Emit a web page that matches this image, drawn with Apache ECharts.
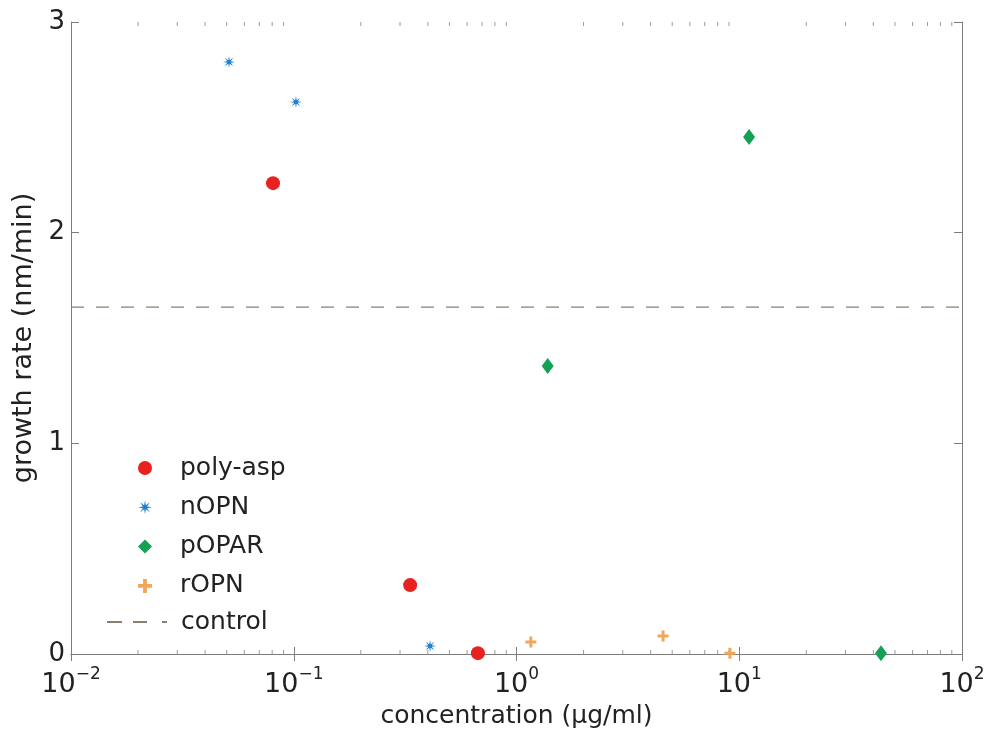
<!DOCTYPE html>
<html>
<head>
<meta charset="utf-8">
<script src="https://cdn.jsdelivr.net/npm/echarts@6/dist/echarts.min.js"></script>
<style>html,body{margin:0;padding:0;background:#fff}#c{width:990px;height:734px}</style>
</head>
<body>
<div id="c"></div>
<script>
// ---- data ----
const polyAspX = [0.0807, 0.333, 0.671];
const polyAspY = [2.235, 0.327, 0.004];
const nOPNX = [0.0512, 0.1023, 0.409];
const nOPNY = [2.81, 2.62, 0.038];
const pOPARX = [1.38, 11.07, 43.3];
const pOPARY = [1.367, 2.454, 0.004];
const rOPNX = [1.16, 4.55, 9.08];
const rOPNY = [0.057, 0.085, 0.004];
const controlY = 1.647;
const xMin = 0.01, xMax = 100;
const yMin = 0, yMax = 3;
const yTicks = [0, 1, 2, 3];
const minorTicks = [0.02,0.03,0.04,0.05,0.06,0.07,0.08,0.09,
                    0.2,0.3,0.4,0.5,0.6,0.7,0.8,0.9,
                    2,3,4,5,6,7,8,9,
                    20,30,40,50,60,70,80,90];
const seriesNames = ['poly-asp', 'nOPN', 'pOPAR', 'rOPN'];
const controlName = 'control';
const xTitle = 'concentration (µg/ml)';
const yTitle = 'growth rate (nm/min)';

function pairs(xs, ys) { return xs.map((x, i) => [x, ys[i]]); }

// star (asterisk-like) symbol path
function starPath() {
  let d = '';
  const n = 8, R = 10, r = 3.2;
  for (let i = 0; i < n * 2; i++) {
    const a = Math.PI * i / n - Math.PI / 2;
    const rad = i % 2 === 0 ? R : r;
    const x = (10 + rad * Math.cos(a)).toFixed(2), y = (10 + rad * Math.sin(a)).toFixed(2);
    d += (i === 0 ? 'M' : 'L') + x + ',' + y;
  }
  return 'path://' + d + 'Z';
}
const STAR = starPath();
const PLUS = 'path://M4,0h3v4h4v3h-4v4h-3v-4h-4v-3h4z';
const DASH_ICON = 'path://M0,0h15v2h-15z M26,0h14v2h-14z M55,0h5v2h-5z';

const FONT = 'DejaVu Sans';
const TXT = '#222';
const AX = '#7c7c7c';

const chart = echarts.init(document.getElementById('c'), null, {renderer: 'canvas'});
const option = {
  backgroundColor: '#fff',
  animation: false,
  textStyle: {fontFamily: FONT},
  grid: {left: 71, right: 28, top: 22, bottom: 80, containLabel: false},
  legend: [
    {
      data: [
        {name: seriesNames[0], icon: 'circle'},
        {name: seriesNames[1], icon: STAR},
        {name: seriesNames[2], icon: 'diamond'},
        {name: seriesNames[3], icon: PLUS}
      ],
      orient: 'vertical', left: 133, top: 450,
      itemWidth: 14, itemHeight: 14, itemGap: 13.3,
      selectedMode: false,
      textStyle: {fontFamily: FONT, fontSize: 25, color: TXT, lineHeight: 26, padding: [0, 0, 0, 23]}
    },
    {
      data: [{name: controlName, icon: DASH_ICON}],
      orient: 'vertical', left: 102, top: 604,
      itemWidth: 60, itemHeight: 2,
      selectedMode: false,
      textStyle: {fontFamily: FONT, fontSize: 25, color: TXT, lineHeight: 26, padding: [0, 0, 0, 9]}
    }
  ],
  xAxis: [
    {
      type: 'log', logBase: 10, min: xMin, max: xMax, position: 'bottom',
      name: xTitle, nameLocation: 'middle', nameGap: 50,
      nameTextStyle: {fontFamily: FONT, fontSize: 25, color: TXT},
      axisLine: {show: true, lineStyle: {color: AX, width: 1}},
      axisTick: {show: true, inside: true, length: 7, lineStyle: {color: AX}},
      splitLine: {show: false},
      axisLabel: {
        margin: 12,
        formatter: function (v) {
          const e = Math.round(Math.log10(v));
          return '{b|10}{s|' + (e < 0 ? '\u2212' + (-e) : e) + '}';
        },
        rich: {
          b: {fontFamily: FONT, fontSize: 27, color: TXT, lineHeight: 32, verticalAlign: 'bottom'},
          s: {fontFamily: FONT, fontSize: 17, color: TXT, verticalAlign: 'top'}
        }
      }
    },
    {
      type: 'log', logBase: 10, min: xMin, max: xMax, position: 'top',
      axisLine: {show: true, lineStyle: {color: AX, width: 1}},
      axisTick: {show: true, inside: true, length: 7, lineStyle: {color: AX}},
      axisLabel: {show: false}, splitLine: {show: false}
    }
  ],
  yAxis: [
    {
      type: 'value', min: yMin, max: yMax, interval: 1, position: 'left',
      name: yTitle, nameLocation: 'middle', nameGap: 33,
      nameTextStyle: {fontFamily: FONT, fontSize: 27, color: TXT},
      axisLine: {show: true, lineStyle: {color: AX, width: 1}},
      axisTick: {show: true, inside: true, length: 8, lineStyle: {color: AX}},
      splitLine: {show: false},
      axisLabel: {margin: 6, fontFamily: FONT, fontSize: 26, color: TXT,
        formatter: v => yTicks.includes(v) ? String(v) : ''}
    },
    {
      type: 'value', min: yMin, max: yMax, interval: 1, position: 'right',
      axisLine: {show: true, lineStyle: {color: AX, width: 1}},
      axisTick: {show: true, inside: true, length: 8, lineStyle: {color: AX}},
      axisLabel: {show: false}, splitLine: {show: false}
    }
  ],
  series: [
    {
      name: controlName, type: 'line', data: [[xMin, controlY], [xMax, controlY]],
      symbol: 'none', color: '#8c7f70',
      lineStyle: {color: '#8c7f70', width: 1.3, type: [13, 12]}, z: 1, silent: true
    },
    {
      name: 'minor', type: 'custom', silent: true, z: 1,
      data: minorTicks.map(v => [v, yMin]),
      renderItem: function (params, api) {
        const v = api.value(0);
        const p0 = api.coord([v, yMin]);
        const p1 = api.coord([v, yMax]);
        return {type: 'group', children: [
          {type: 'line', shape: {x1: p0[0], y1: p0[1], x2: p0[0], y2: p0[1] - 4}, style: {stroke: '#9a9a9a', lineWidth: 1}},
          {type: 'line', shape: {x1: p1[0], y1: p1[1], x2: p1[0], y2: p1[1] + 4}, style: {stroke: '#9a9a9a', lineWidth: 1}}
        ]};
      }
    },
    {
      name: seriesNames[0], type: 'scatter', data: pairs(polyAspX, polyAspY),
      symbol: 'circle', symbolSize: 14, itemStyle: {color: '#e8231f', opacity: 1}, clip: false, z: 5
    },
    {
      name: seriesNames[1], type: 'scatter', data: pairs(nOPNX, nOPNY),
      symbol: STAR, symbolSize: 12, itemStyle: {color: '#1f7fd0', opacity: 1}, clip: false, z: 5
    },
    {
      name: seriesNames[2], type: 'scatter', data: pairs(pOPARX, pOPARY),
      symbol: 'diamond', symbolSize: [12, 16], itemStyle: {color: '#14a055', opacity: 1}, clip: false, z: 5
    },
    {
      name: seriesNames[3], type: 'scatter', data: pairs(rOPNX, rOPNY),
      symbol: PLUS, symbolSize: 11, itemStyle: {color: '#f2a65a', opacity: 1}, clip: false, z: 5
    }
  ]
};
chart.setOption(option);
</script>
</body>
</html>
